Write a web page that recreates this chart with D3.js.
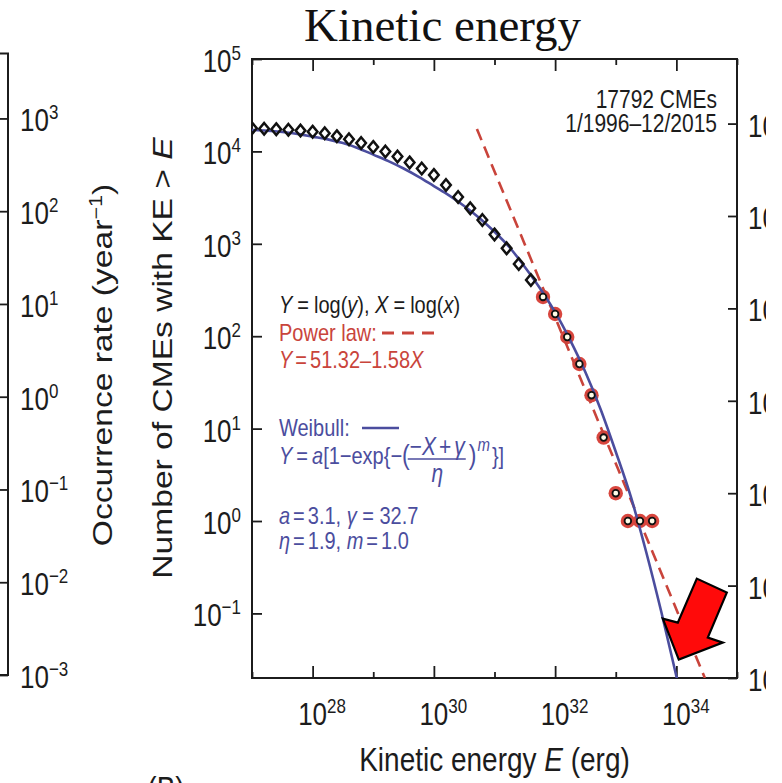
<!DOCTYPE html>
<html>
<head>
<meta charset="utf-8">
<script src="https://cdn.jsdelivr.net/npm/d3@7/dist/d3.min.js"></script>
<style>
  html, body { margin: 0; padding: 0; background: #fff; overflow: hidden; }
  svg { display: block; }
  text { white-space: pre; }
</style>
</head>
<body>
<svg id="chart" width="766" height="783"></svg>
<script>
// ---- Cumulative CME counts, N(KE > E), 17792 CMEs from 1/1996 to 12/2015 ----
const logEnergyMain = [27.0, 27.2, 27.4, 27.6, 27.8, 28.0, 28.2, 28.4, 28.6, 28.8, 29.0, 29.2,
                       29.4, 29.6, 29.8, 30.0, 30.2, 30.4, 30.6, 30.8, 31.0, 31.2, 31.4, 31.6];
const countMain = [17792, 17590, 17380, 17140, 16790, 16330, 15700, 14620, 13520, 12330, 11170, 9980,
                   8810, 7590, 6530, 5560, 4320, 3210, 2420, 1810, 1262, 893, 604, 406];

// High-energy tail used for the power-law fit
const logEnergyTail = [31.8, 32.0, 32.2, 32.4, 32.6, 32.8, 33.0, 33.2, 33.4, 33.6];
const countTail = [266, 174, 98, 50, 23, 8, 2, 1, 1, 1];

// Weibull fit, sampled along the curve (log10 E, log10 N)
const logEnergyWeibull = [27.0, 27.25, 27.5, 27.75, 28.0, 28.25, 28.5, 28.75, 29.0, 29.25, 29.5,
                          29.75, 30.0, 30.25, 30.5, 30.75, 31.0, 31.25, 31.5, 31.75, 32.0, 32.25,
                          32.5, 32.75, 33.0, 33.25, 33.5, 33.75, 34.0, 34.05];
const logCountWeibull = [4.232, 4.224, 4.21, 4.19, 4.16, 4.13, 4.09, 4.035, 3.965, 3.895, 3.815,
                         3.725, 3.625, 3.525, 3.41, 3.28, 3.13, 2.96, 2.75, 2.52, 2.26, 1.955,
                         1.61, 1.21, 0.75, 0.26, -0.33, -0.98, -1.68, -1.82];

// Power law Y = 51.32 - 1.58X, end points of the drawn segment (log10 E, log10 N)
const logEnergyPower = [30.71, 34.47];
const logCountPower = [4.242, -1.699];

// Axis ticks (decade exponents)
const xTickExps = [27, 28, 29, 30, 31, 32, 33, 34, 35];
const xLabelExps = [28, 30, 32, 34];
const yTickExps = [-1, 0, 1, 2, 3, 4, 5];
const rateTickExps = [-3, -2, -1, 0, 1, 2, 3];
const leftRateTickExps = [-3, -2, -1, 0, 1, 2, 3];
const years = 20;

// Arrow annotation tip (log10 E, log10 N)
const arrowTip = [34.04, -1.5];

// ---- styling ----
const FONT = "'Liberation Sans', Arial, Helvetica, sans-serif";
const SERIF = "'Liberation Serif', 'Times New Roman', serif";
const SY = 1.2;                 // glyphs are drawn slightly tall
const INK = "#1c1c1c";
const RED = "#c9443b";
const BLUE = "#4b4d9e";

const svg = d3.select("#chart");

const x = d3.scaleLog().domain([1e27, 1e35]).range([252, 737]);
const y = d3.scaleLog().domain([0.02, 1e5]).range([678, 59]);
const yRate = d3.scaleLog().domain([0.02 / years, 1e5 / years]).range([678, 59]);
const yLeft = d3.scaleLog().domain([1e-3, Math.pow(10, 3.7)]).range([675, 53.5]);

const [X0, X1] = x.range();
const [Y1, Y0] = y.range();

function rich(parent, px, py, parts, o = {}) {
  const t = parent.append("text")
    .attr("transform", `translate(${px},${py}) scale(1,${SY})` + (o.rotate ? ` rotate(${o.rotate})` : ""))
    .attr("font-family", FONT)
    .attr("font-size", o.size || 20)
    .attr("fill", o.color || INK)
    .attr("text-anchor", o.anchor || "start");
  parts.forEach(p => {
    const s = t.append("tspan").text(p.t);
    if (p.i) s.attr("font-style", "italic");
    if (p.dx) s.attr("dx", p.dx);
    if (p.dy) s.attr("dy", p.dy);
    if (p.size) s.attr("font-size", p.size);
  });
  return t;
}

function expText(e) { return e < 0 ? "\u2212" + (-e) : String(e); }

function powLabel(parent, px, py, e, anchor) {
  return rich(parent, px, py, [
    { t: "10" },
    { t: expText(e), dy: -10, size: 17 }
  ], { size: 26, anchor });
}

function styleAxis(g) {
  g.select(".domain").remove();
  g.selectAll(".tick line").attr("stroke", INK).attr("stroke-width", 1.8);
  g.selectAll(".tick text").remove();
}

// ---- title ----
svg.append("text")
  .attr("x", 442.5).attr("y", 41)
  .attr("text-anchor", "middle")
  .attr("font-family", SERIF).attr("font-size", 47)
  .attr("fill", "#111")
  .text("Kinetic energy");

// ---- left neighbouring panel: its right-hand rate axis ----
const leftG = svg.append("g");
leftG.append("path")
  .attr("d", `M-2,${yLeft.range()[1]}H8V${yLeft.range()[0]}H-2`)
  .attr("fill", "none").attr("stroke", INK).attr("stroke-width", 2);
leftG.append("g").attr("transform", "translate(8,0)")
  .call(d3.axisRight(yLeft).tickValues(leftRateTickExps.map(e => Math.pow(10, e)))
    .tickSizeInner(-10).tickSizeOuter(0))
  .call(styleAxis);
leftRateTickExps.forEach(e => powLabel(leftG, 20, yLeft(Math.pow(10, e)) + 13, e, "start"));
rich(leftG, 112, 365, [
  { t: "Occurrence rate (year" },
  { t: "\u22121", dy: -10, size: 18 },
  { t: ")", dy: 10 }
], { size: 28, anchor: "middle", rotate: -90 });

// ---- main panel ----
const plot = svg.append("g");
plot.append("rect")
  .attr("x", X0).attr("y", Y0).attr("width", X1 - X0).attr("height", Y1 - Y0)
  .attr("fill", "none").attr("stroke", INK).attr("stroke-width", 2);

const minorX = xTickExps.filter(e => !xLabelExps.includes(e)).map(e => Math.pow(10, e));
const majorX = xLabelExps.map(e => Math.pow(10, e));
plot.append("g").attr("transform", `translate(0,${Y1})`)
  .call(d3.axisBottom(x).tickValues(majorX).tickSizeInner(-12).tickSizeOuter(0)).call(styleAxis);
plot.append("g").attr("transform", `translate(0,${Y1})`)
  .call(d3.axisBottom(x).tickValues(minorX).tickSizeInner(-6).tickSizeOuter(0)).call(styleAxis);
plot.append("g").attr("transform", `translate(0,${Y0})`)
  .call(d3.axisTop(x).tickValues(majorX).tickSizeInner(-12).tickSizeOuter(0)).call(styleAxis);
plot.append("g").attr("transform", `translate(0,${Y0})`)
  .call(d3.axisTop(x).tickValues(minorX).tickSizeInner(-6).tickSizeOuter(0)).call(styleAxis);
plot.append("g").attr("transform", `translate(${X0},0)`)
  .call(d3.axisLeft(y).tickValues(yTickExps.map(e => Math.pow(10, e))).tickSizeInner(-10).tickSizeOuter(0))
  .call(styleAxis);
plot.append("g").attr("transform", `translate(${X1},0)`)
  .call(d3.axisRight(yRate).tickValues(rateTickExps.map(e => Math.pow(10, e))).tickSizeInner(-9).tickSizeOuter(0))
  .call(styleAxis);

// tick labels
xLabelExps.forEach(e => powLabel(plot, x(Math.pow(10, e)) - 14.5, 725, e, "start"));
yTickExps.forEach(e => powLabel(plot, X0 - 11, y(Math.pow(10, e)) + 13, e, "end"));
rateTickExps.forEach(e => powLabel(plot, X1 + 11, yRate(Math.pow(10, e)) + 13, e, "start"));

// axis titles
rich(plot, (X0 + X1) / 2, 771, [
  { t: "Kinetic energy " }, { t: "E", i: true }, { t: " (erg)" }
], { size: 28, anchor: "middle" });
rich(plot, 172, 358, [
  { t: "Number of CMEs with KE > " }, { t: "E", i: true }
], { size: 28, anchor: "middle", rotate: -90 });

// panel tag of the next row
rich(svg, 166, 800, [{ t: "(B)" }], { size: 28, anchor: "middle" });

// ---- data layer ----
svg.append("defs").append("clipPath").attr("id", "plot-clip")
  .append("rect").attr("x", X0).attr("y", Y0).attr("width", X1 - X0).attr("height", Y1 - Y0);
const data = svg.append("g").attr("clip-path", "url(#plot-clip)");

const tail = logEnergyTail.map((e, i) => ({ e, n: countTail[i] }));
const main = logEnergyMain.map((e, i) => ({ e, n: countMain[i] }));
const weib = logEnergyWeibull.map((e, i) => ({ e, n: Math.pow(10, logCountWeibull[i]) }));
const power = logEnergyPower.map((e, i) => ({ e, n: Math.pow(10, logCountPower[i]) }));

const line = d3.line()
  .x(d => x(Math.pow(10, d.e)))
  .y(d => y(d.n));

// red discs of the fitted tail
data.selectAll("circle.tail").data(tail).join("circle")
  .attr("class", "tail")
  .attr("cx", d => x(Math.pow(10, d.e))).attr("cy", d => y(d.n))
  .attr("r", 7.2).attr("fill", "#d8463e");

// power law (dashed)
data.append("path").datum(power)
  .attr("d", line)
  .attr("fill", "none").attr("stroke", RED).attr("stroke-width", 2.6)
  .attr("stroke-dasharray", "12,7");

// Weibull fit (solid)
data.append("path").datum(weib)
  .attr("d", line.curve(d3.curveMonotoneX))
  .attr("fill", "none").attr("stroke", BLUE).attr("stroke-width", 2.6);

// open diamonds
data.selectAll("path.dia").data(main).join("path")
  .attr("class", "dia")
  .attr("transform", d => `translate(${x(Math.pow(10, d.e))},${y(d.n)})`)
  .attr("d", "M0,-5.8L4.8,0L0,5.8L-4.8,0Z")
  .attr("fill", "none").attr("stroke", "#111").attr("stroke-width", 2.5);

// small markers inside the red discs
data.selectAll("circle.inner").data(tail).join("circle")
  .attr("class", "inner")
  .attr("cx", d => x(Math.pow(10, d.e))).attr("cy", d => y(d.n))
  .attr("r", 3.3).attr("fill", "#fffbe8").attr("stroke", "#111").attr("stroke-width", 1.8);

// ---- annotations ----
const note = svg.append("g");
rich(note, 717, 108, [{ t: "17792 CMEs" }], { size: 21, anchor: "end" });
rich(note, 717, 132, [{ t: "1/1996\u201312/2015" }], { size: 21, anchor: "end" });

const LX = 279;
rich(note, LX, 313, [
  { t: "Y", i: true }, { t: "=", dx: 5 }, { t: "log(", dx: 5 }, { t: "y", i: true }, { t: "), " },
  { t: "X", i: true }, { t: "=", dx: 5 }, { t: "log(", dx: 5 }, { t: "x", i: true }, { t: ")" }
]);
rich(note, LX, 341, [{ t: "Power law:" }], { color: RED });
note.append("line").attr("x1", 382).attr("x2", 434).attr("y1", 333).attr("y2", 333)
  .attr("stroke", RED).attr("stroke-width", 2.8).attr("stroke-dasharray", "12,8");
rich(note, LX, 368, [
  { t: "Y", i: true }, { t: "=", dx: 3 }, { t: "51.32\u20131.58", dx: 3 }, { t: "X", i: true }
], { color: RED });

rich(note, LX, 436, [{ t: "Weibull:" }], { color: BLUE });
note.append("line").attr("x1", 362).attr("x2", 399).attr("y1", 428).attr("y2", 428)
  .attr("stroke", BLUE).attr("stroke-width", 2.6);

// Weibull expression with an inline fraction
const pre = rich(note, LX, 464, [
  { t: "Y", i: true }, { t: "=", dx: 4 }, { t: "a", i: true, dx: 4 }, { t: "[1\u2212exp{\u2212" },
  { t: "(", size: 23 }
], { color: BLUE });
const fx = LX + pre.node().getComputedTextLength() + 8;
const num = rich(note, fx, 455, [
  { t: "\u2212" }, { t: "X", i: true }, { t: "+", dx: 3 }, { t: "\u03b3", i: true, dx: 3 }
], { color: BLUE, size: 21 });
const nw = num.node().getComputedTextLength() + 6;
note.append("line").attr("x1", fx - 2).attr("x2", fx + nw + 1).attr("y1", 459).attr("y2", 459)
  .attr("stroke", BLUE).attr("stroke-width", 1.5);
rich(note, fx + nw / 2, 482, [{ t: "\u03b7", i: true }], { color: BLUE, anchor: "middle", size: 21 });
const post = rich(note, fx + nw + 4, 464, [{ t: ")", size: 23 }], { color: BLUE });
const px2 = fx + nw + 4 + post.node().getComputedTextLength() + 1;
const sup = rich(note, px2, 451, [{ t: "m", i: true }], { color: BLUE, size: 15 });
rich(note, px2 + sup.node().getComputedTextLength() + 2, 464, [{ t: "}]" }], { color: BLUE });

rich(note, LX, 524, [
  { t: "a", i: true }, { t: "=", dx: 3 }, { t: "3.1, ", dx: 3 },
  { t: "\u03b3", i: true }, { t: " = " }, { t: "32.7" }
], { color: BLUE });
rich(note, LX, 549, [
  { t: "\u03b7", i: true }, { t: "=", dx: 3 }, { t: "1.9, ", dx: 3 },
  { t: "m", i: true }, { t: "=", dx: 3 }, { t: "1.0", dx: 3 }
], { color: BLUE });

// red arrow pointing at the extrapolated fit
const tipX = x(Math.pow(10, arrowTip[0])), tipY = y(Math.pow(10, arrowTip[1]));
const arrowShape = [[0, 0], [-16, -41], [-1, -37], [18, -81], [48, -67], [29, -22], [44, -17]];
svg.append("path")
  .attr("d", "M" + arrowShape.map(([dx, dy]) => `${tipX + dx},${tipY + dy}`).join("L") + "Z")
  .attr("fill", "#ff0a0a").attr("stroke", "#000").attr("stroke-width", 2.2)
  .attr("stroke-linejoin", "miter");
</script>
</body>
</html>
